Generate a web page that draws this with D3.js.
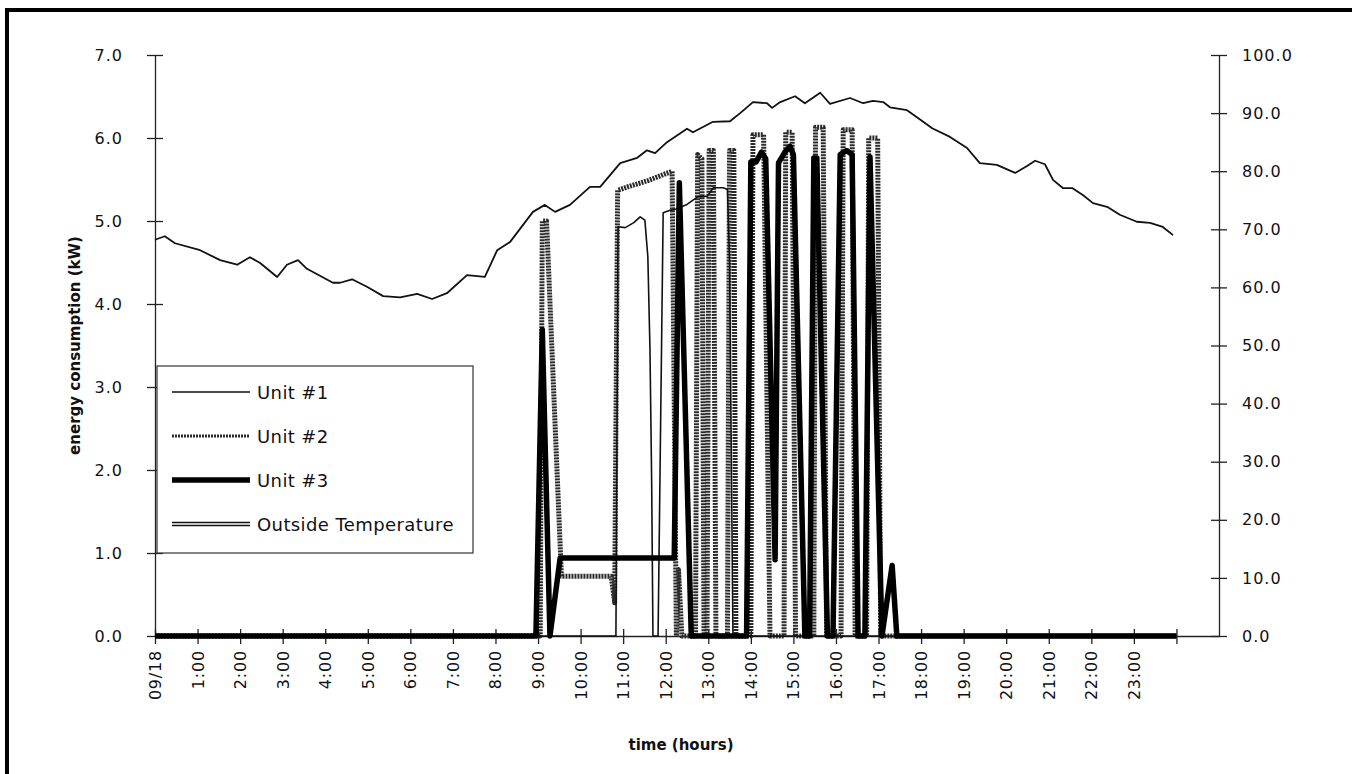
<!DOCTYPE html>
<html>
<head>
<meta charset="utf-8">
<script src="https://cdn.jsdelivr.net/npm/d3@7"></script>
<style>
  html, body { margin: 0; padding: 0; background: #fff; overflow: hidden; }
  svg text { font-family: "DejaVu Sans", "Liberation Sans", sans-serif; fill: #111; }
</style>
</head>
<body>
<svg id="chart" width="1352" height="774"></svg>
<script>
// ---- data (hours since midnight, kW / deg F) ----
const hourTicks = d3.range(0, 25);
const hourLabels = ['09/18', '1:00', '2:00', '3:00', '4:00', '5:00', '6:00', '7:00', '8:00', '9:00',
  '10:00', '11:00', '12:00', '13:00', '14:00', '15:00', '16:00', '17:00', '18:00', '19:00',
  '20:00', '21:00', '22:00', '23:00'];
const kwTicks = [0, 1, 2, 3, 4, 5, 6, 7];
const tempTicks = [0, 10, 20, 30, 40, 50, 60, 70, 80, 90, 100];

const unit1 = [[0, 0], [10.83, 0], [10.88, 4.93], [11.05, 4.92], [11.25, 4.98], [11.4, 5.05], [11.51, 5.01],
  [11.58, 4.57], [11.63, 3.45], [11.67, 1.84], [11.7, 0], [11.82, 0], [11.94, 5.1], [12.1, 5.13], [12.22, 5.14],
  [12.5, 5.2], [12.75, 5.29], [12.98, 5.3], [13.12, 5.4], [13.35, 5.4], [13.45, 5.38], [13.5, 4.5], [13.58, 0], [24, 0]];

const unit2 = [[0, 0], [9.05, 0], [9.1, 5.0], [9.2, 5.0], [9.55, 0.72], [10.72, 0.72], [10.8, 0.4], [10.87, 5.37],
  [11.1, 5.41], [11.35, 5.45], [11.6, 5.49], [11.8, 5.53], [12.05, 5.58], [12.15, 5.6], [12.25, 0], [12.3, 0.8],
  [12.38, 0], [12.7, 0], [12.75, 5.8], [12.85, 5.75], [12.9, 0], [12.97, 0], [13.02, 5.85], [13.12, 5.85],
  [13.18, 0], [13.45, 0], [13.5, 5.85], [13.6, 5.85], [13.65, 0], [14.0, 0], [14.05, 6.04], [14.3, 6.04],
  [14.45, 0], [14.78, 0], [14.82, 6.07], [14.97, 6.07], [15.05, 0], [15.48, 0], [15.52, 6.13], [15.7, 6.13],
  [15.78, 0], [16.12, 0], [16.17, 6.1], [16.38, 6.1], [16.45, 0], [16.72, 0], [16.77, 6.0], [16.98, 6.0],
  [17.05, 0], [24, 0]];

const unit3 = [[0, 0], [8.95, 0], [9.1, 3.69], [9.28, 0], [9.52, 0.94], [12.2, 0.94], [12.32, 5.46], [12.6, 0],
  [13.9, 0], [14.0, 5.71], [14.12, 5.71], [14.25, 5.83], [14.35, 5.75], [14.57, 0.92], [14.65, 5.7], [14.8, 5.83],
  [14.92, 5.9], [15.0, 5.8], [15.27, 0], [15.38, 0], [15.48, 5.76], [15.55, 5.76], [15.8, 0], [15.93, 0],
  [16.1, 5.8], [16.25, 5.85], [16.38, 5.8], [16.52, 0], [16.68, 0], [16.8, 5.77], [17.08, 0], [17.32, 0.85],
  [17.43, 0], [24, 0]];

const outsideTemp = [[0, 68.2], [0.23, 68.8], [0.47, 67.6], [1.06, 66.4], [1.53, 64.7], [1.93, 63.9], [2.23, 65.2],
  [2.47, 64.2], [2.87, 61.8], [3.1, 63.9], [3.36, 64.7], [3.57, 63.2], [4.18, 60.8], [4.35, 60.8], [4.63, 61.4],
  [4.98, 60.1], [5.36, 58.5], [5.76, 58.3], [6.16, 58.9], [6.51, 58.0], [6.86, 59.0], [7.33, 62.1], [7.75, 61.8],
  [8.04, 66.4], [8.34, 67.8], [8.88, 73.0], [9.16, 74.2], [9.4, 73.0], [9.75, 74.2], [10.22, 77.3], [10.46, 77.3],
  [10.93, 81.4], [11.33, 82.3], [11.56, 83.6], [11.75, 83.1], [12.03, 85.0], [12.5, 87.3], [12.64, 86.7],
  [13.11, 88.5], [13.51, 88.6], [13.75, 90.0], [14.05, 91.9], [14.38, 91.7], [14.5, 90.9], [14.69, 91.9],
  [15.04, 92.9], [15.27, 91.7], [15.63, 93.5], [15.86, 91.6], [16.33, 92.6], [16.64, 91.7], [16.87, 92.1],
  [17.11, 91.9], [17.27, 91.0], [17.67, 90.5], [18.05, 88.5], [18.26, 87.4], [18.68, 85.9], [19.08, 84.0],
  [19.38, 81.4], [19.78, 81.1], [20.21, 79.7], [20.49, 80.9], [20.68, 81.8], [20.91, 81.2], [21.1, 78.5],
  [21.33, 77.1], [21.55, 77.1], [21.8, 75.9], [22.04, 74.5], [22.39, 73.8], [22.67, 72.5], [23.07, 71.3],
  [23.38, 71.1], [23.68, 70.4], [23.92, 69.0]];

const legendNames = ['Unit #1', 'Unit #2', 'Unit #3', 'Outside Temperature'];

// ---- layout ----
const svg = d3.select('#chart');
const plotL = 155, plotR = 1219, plotT = 55, plotB = 636;

const x = d3.scaleLinear().domain([0, 25]).range([plotL, plotR]);
const yKw = d3.scaleLinear().domain([0, 7]).range([plotB, plotT]);
const yTemp = d3.scaleLinear().domain([0, 100]).range([plotB, plotT]);

// frame: only the left and top edges show in the scan
svg.append('path')
  .attr('d', 'M7,774 V10 H1352')
  .attr('fill', 'none')
  .attr('stroke', '#000')
  .attr('stroke-width', 4);

// axes
const leftAxis = d3.axisLeft(yKw).tickValues(kwTicks).tickFormat(d3.format('.1f')).tickSize(0).tickPadding(32);
const gL = svg.append('g').attr('transform', `translate(${plotL},0)`).call(leftAxis);

const rightAxis = d3.axisRight(yTemp).tickValues(tempTicks).tickFormat(d3.format('.1f')).tickSize(0).tickPadding(23);
const gR = svg.append('g').attr('transform', `translate(${plotR},0)`).call(rightAxis);

const bottomAxis = d3.axisBottom(x).tickValues(hourTicks).tickFormat('').tickSize(0);
const gB = svg.append('g').attr('transform', `translate(0,${plotB})`).call(bottomAxis);

[gL, gR, gB].forEach(g => {
  g.select('.domain').attr('stroke', '#222').attr('stroke-width', 1.3);
  g.selectAll('text').style('font-size', '16px').style('letter-spacing', '1px').attr('fill', '#111');
});

// crossing tick marks
gL.selectAll('.tick').append('line').attr('x1', -8).attr('x2', 8).attr('stroke', '#222').attr('stroke-width', 1.3);
gR.selectAll('.tick').append('line').attr('x1', -8).attr('x2', 8).attr('stroke', '#222').attr('stroke-width', 1.3);
gB.selectAll('.tick').append('line').attr('y1', -7).attr('y2', 8).attr('stroke', '#222').attr('stroke-width', 1.3);

// rotated hour labels
svg.append('g')
  .selectAll('text')
  .data(hourLabels)
  .join('text')
  .attr('transform', (d, i) => `translate(${x(hourTicks[i]) + 6},${plotB + 14}) rotate(-90)`)
  .attr('text-anchor', 'end')
  .style('font-size', '16px')
  .style('letter-spacing', '0.8px')
  .text(d => d);

// axis titles
svg.append('text')
  .attr('transform', `translate(80,${(plotT + plotB) / 2}) rotate(-90)`)
  .attr('text-anchor', 'middle')
  .style('font-size', '15px')
  .style('font-weight', 'bold')
  .text('energy consumption (kW)');

svg.append('text')
  .attr('x', 681).attr('y', 750)
  .attr('text-anchor', 'middle')
  .style('font-size', '15px')
  .style('font-weight', 'bold')
  .text('time (hours)');

// ---- series ----
const kwLine = d3.line().x(d => x(d[0])).y(d => yKw(d[1]));
const tempLine = d3.line().x(d => x(d[0])).y(d => yTemp(d[1]));

const styles = [
  { stroke: '#111', width: 1.6, dash: null },
  { stroke: '#2a2a2a', width: 5, dash: '2,1' },
  { stroke: '#000', width: 5.5, dash: null }
];

const plot = svg.append('g').attr('fill', 'none').attr('stroke-linejoin', 'round');

plot.append('path').datum(unit2)
  .attr('d', kwLine)
  .attr('stroke', styles[1].stroke).attr('stroke-width', styles[1].width)
  .attr('stroke-dasharray', styles[1].dash);

plot.append('path').datum(unit1)
  .attr('d', kwLine)
  .attr('stroke', styles[0].stroke).attr('stroke-width', styles[0].width);

plot.append('path').datum(unit3)
  .attr('d', kwLine)
  .attr('stroke', styles[2].stroke).attr('stroke-width', styles[2].width);

plot.append('path').datum(outsideTemp)
  .attr('d', tempLine)
  .attr('stroke', '#111').attr('stroke-width', 1.8);

// ---- legend ----
const legend = svg.append('g').attr('transform', 'translate(157,366)');
legend.append('rect')
  .attr('width', 316).attr('height', 187)
  .attr('fill', '#fff')
  .attr('stroke', '#333').attr('stroke-width', 1.2);

const rowY = d3.scalePoint().domain(legendNames).range([26, 158]);

legendNames.forEach((name, i) => {
  const y = rowY(name);
  if (i < 3) {
    legend.append('line')
      .attr('x1', 15).attr('x2', 93).attr('y1', y).attr('y2', y)
      .attr('stroke', styles[i].stroke)
      .attr('stroke-width', i === 1 ? 3 : styles[i].width)
      .attr('stroke-dasharray', styles[i].dash);
  } else {
    legend.append('line')
      .attr('x1', 15).attr('x2', 93).attr('y1', y).attr('y2', y)
      .attr('stroke', '#111').attr('stroke-width', 4.5);
    legend.append('line')
      .attr('x1', 14).attr('x2', 94).attr('y1', y).attr('y2', y)
      .attr('stroke', '#fff').attr('stroke-width', 1.4);
  }
  legend.append('text')
    .attr('x', 100).attr('y', y + 7)
    .style('font-size', '18px')
    .style('letter-spacing', '0.4px')
    .text(name);
});
</script>
</body>
</html>
